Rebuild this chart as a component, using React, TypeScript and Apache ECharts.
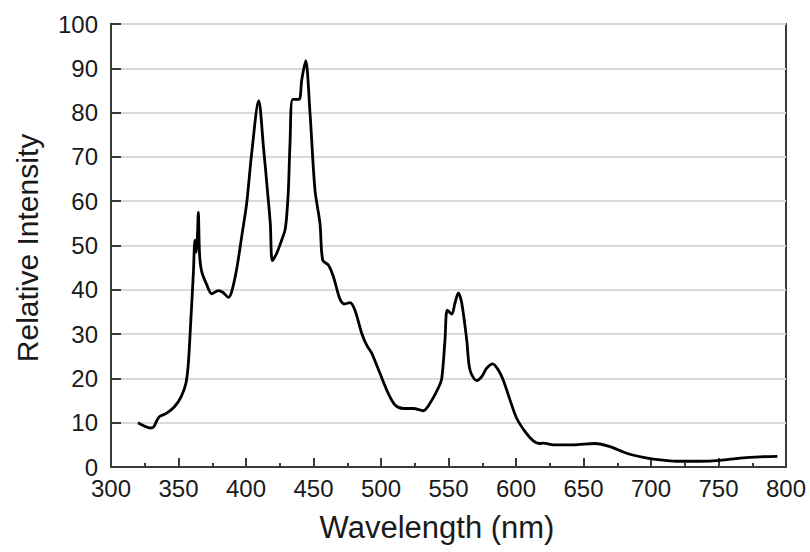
import React, { useEffect, useRef } from "react";
import * as echarts from "echarts";

const wavelengths = [
  320, 325, 329, 331.5, 334, 336, 341, 347, 352, 355.5, 357.3, 359, 361, 362.2,
  363.2, 364, 364.7, 365.6, 367.2, 371, 374.6, 379.5, 383, 387, 389.4, 393,
  396.8, 400.5, 404.2, 409.4, 413, 416, 418, 419.5, 422.7, 426.4, 428.9, 430.1,
  431.4, 432.6, 434.6, 439.3, 441.3, 444.2, 447.4, 451.1, 454.8, 456.8, 461,
  464.7, 469.6, 473, 477, 480.7, 485.7, 489.4, 493.1, 499.3, 505.4, 510.4,
  516.5, 523.9, 531.3, 536.3, 542.4, 545, 547.4, 549.1, 552.4, 554.8, 557.3,
  559.8, 563.5, 565.9, 570.9, 574.6, 578.3, 582.7, 586.9, 590.6, 595.6, 600.5,
  606.7, 612.8, 617.3, 620.2, 627.6, 642.4, 658.5, 669.6, 682, 694.3, 706.7,
  719, 736.3, 751.1, 765.9, 780.7, 793.6,
];

const intensity = [
  10, 9.2, 8.8, 9.0, 10.5, 11.4, 12.1, 13.6, 15.9, 18.9, 23.4, 32.4, 43.7, 51.2,
  48.5, 52, 57.5, 48, 44.1, 41.1, 39.1, 39.8, 39.4, 38.3, 39.6, 44.5,
  52, 59.5, 70.8, 82.7, 72, 62, 55, 46.6, 48.2, 51.2, 53.5, 56.5,
  62.5, 73, 83, 83, 87.4, 91.7, 80, 62.5, 55, 46.7, 45.6,
  43, 37.9, 36.8, 37.1, 35.4, 30.2, 27.5, 25.7, 21.1, 16.6, 14,
  13.2, 13.2, 12.7, 14.4, 17.8, 20, 28.7, 35.4, 34.5, 37, 39.3,
  37, 28.7, 21.9, 19.5, 20.4, 22.3, 23.3, 21.9, 19.6, 15.1, 11,
  8, 5.9, 5.3, 5.4, 5, 5, 5.3, 4.6, 3.1, 2.2, 1.6,
  1.3, 1.3, 1.5, 2, 2.3, 2.4,
];

const xTitle = "Wavelength (nm)";
const yTitle = "Relative Intensity";

const FONT = "'Liberation Sans', Arial, Helvetica, sans-serif";
const AXIS_COLOR = "#3a3a3a";

export default function App() {
  const ref = useRef<HTMLDivElement>(null);

  useEffect(() => {
    if (!ref.current) return;
    const chart = echarts.init(ref.current, undefined, { renderer: "svg" });
    const data = wavelengths.map((w, i) => [w, intensity[i]]);
    chart.setOption({
      animation: false,
      backgroundColor: "#ffffff",
      grid: {
        left: 111,
        right: 24,
        top: 24,
        bottom: 85,
        show: true,
        borderColor: AXIS_COLOR,
        borderWidth: 2,
        backgroundColor: "transparent",
      },
      xAxis: {
        type: "value",
        min: 300,
        max: 800,
        interval: 50,
        axisLine: { show: true, lineStyle: { color: AXIS_COLOR, width: 2 } },
        axisTick: {
          show: true,
          inside: true,
          length: 9,
          lineStyle: { color: AXIS_COLOR, width: 2 },
        },
        minorTick: {
          show: true,
          splitNumber: 2,
          length: 4,
          lineStyle: { color: AXIS_COLOR, width: 2 },
        },
        splitLine: { show: false },
        axisLabel: {
          fontFamily: FONT,
          fontSize: 24,
          lineHeight: 20,
          color: "#1a1a1a",
          margin: 11,
        },
      },
      yAxis: {
        type: "value",
        min: 0,
        max: 100,
        interval: 10,
        axisLine: { show: true, lineStyle: { color: AXIS_COLOR, width: 2 } },
        axisTick: {
          show: true,
          inside: true,
          length: 10,
          lineStyle: { color: AXIS_COLOR, width: 2 },
        },
        splitLine: { show: true, lineStyle: { color: "#d9d9d9", width: 2 } },
        axisLabel: {
          fontFamily: FONT,
          fontSize: 24,
          lineHeight: 20,
          color: "#1a1a1a",
          margin: 13,
        },
      },
      graphic: [
        {
          type: "text",
          x: 437,
          y: 527,
          style: {
            text: xTitle,
            fontFamily: FONT,
            fontSize: 31,
            fill: "#1a1a1a",
            textAlign: "center",
            textVerticalAlign: "middle",
          },
        },
        {
          type: "text",
          x: 27,
          y: 248,
          rotation: Math.PI / 2,
          style: {
            text: yTitle,
            fontFamily: FONT,
            fontSize: 30,
            fill: "#1a1a1a",
            textAlign: "center",
            textVerticalAlign: "middle",
          },
        },
      ],
      series: [
        {
          type: "line",
          data,
          showSymbol: false,
          smooth: 0.3,
          lineStyle: { color: "#000000", width: 2.8 },
          z: 3,
        },
      ],
    });
    return () => chart.dispose();
  }, []);

  return (
    <div
      ref={ref}
      style={{ position: "fixed", left: 0, top: 0, width: 810, height: 552 }}
    />
  );
}
